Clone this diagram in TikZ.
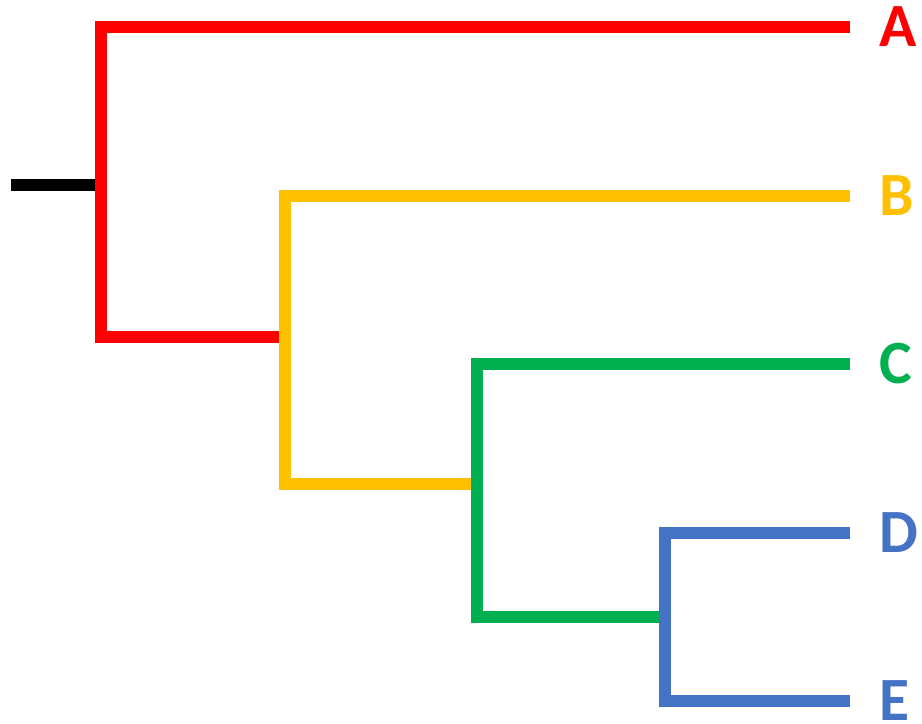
\documentclass[tikz,border=0pt]{standalone}
\usepackage{fontspec}
\setmainfont{Carlito}
\usetikzlibrary{positioning}
\definecolor{cladeA}{HTML}{FF0000}
\definecolor{cladeB}{HTML}{FFC000}
\definecolor{cladeC}{HTML}{00B050}
\definecolor{cladeD}{HTML}{4472C4}
\begin{document}
\begin{tikzpicture}[x=0.02cm, y=-0.02cm,
			branch/.style={line width=6.5pt},
			leaf/.style={font=\bfseries\fontsize{35}{35}\selectfont, inner sep=0pt, right=0.58cm of #1}
			]
			\useasboundingbox (0,0) rectangle (922,723);
			% tips and inner nodes
			\coordinate (root) at (11,185);
			\coordinate (n1) at (101,185);
			\coordinate (n2) at (285,337);
			\coordinate (n3) at (477,484);
			\coordinate (n4) at (665,617);
			\coordinate (tA) at (850,27);
			\coordinate (tB) at (850,196);
			\coordinate (tC) at (850,364);
			\coordinate (tD) at (850,533);
			\coordinate (tE) at (850,701);
			\node [leaf=tA, text=cladeA](A) {A};
			\node [leaf=tB, text=cladeB](B) {B};
			\node [leaf=tC, text=cladeC](C) {C};
			\node [leaf=tD, text=cladeD](D) {D};
			\node [leaf=tE, text=cladeD](E) {E};
			
			\draw[branch, black] (root) -- (n1);
			\draw[branch, cladeA] (tA) -| (n1) |- (n2);
			\draw[branch, cladeB] (tB) -| (n2) |- (n3);
			\draw[branch, cladeC] (tC) -| (n3) |- (n4);
			\draw[branch, cladeD] (tD) -| (n4) |- (tE);
		\end{tikzpicture}
\end{document}
